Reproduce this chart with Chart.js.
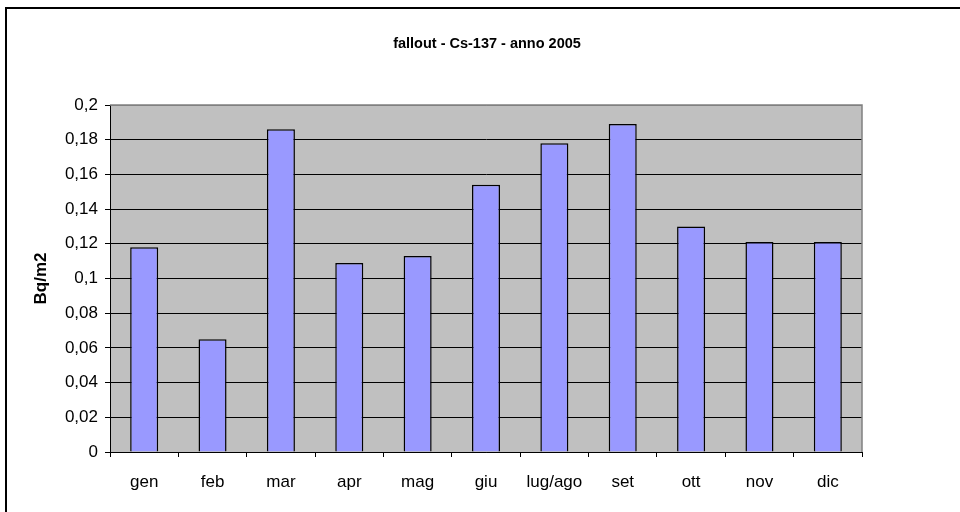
<!DOCTYPE html>
<html>
<head>
<meta charset="utf-8">
<script src="https://cdn.jsdelivr.net/npm/chart.js@4/dist/chart.umd.min.js"></script>
<style>
html,body{margin:0;padding:0;background:#fff;}
#wrap{width:960px;height:512px;position:relative;}
</style>
</head>
<body>
<div id="wrap"><canvas id="c" width="960" height="512"></canvas></div>
<script>
const chartTitle = 'fallout - Cs-137 - anno 2005';
const yAxisTitle = 'Bq/m2';
const categories = ['gen','feb','mar','apr','mag','giu','lug/ago','set','ott','nov','dic'];
const values = [0.118, 0.065, 0.186, 0.109, 0.113, 0.154, 0.178, 0.189, 0.130, 0.121, 0.121];
const yMin = 0, yMax = 0.2, yStep = 0.02;

const FONT = "'Liberation Sans', Arial, sans-serif";

const decor = {
  id: 'decor',
  beforeDraw(chart) {
    const {ctx, chartArea: a} = chart;
    ctx.save();
    ctx.fillStyle = '#fff';
    ctx.fillRect(0, 0, chart.width, chart.height);
    ctx.fillStyle = '#C0C0C0';
    ctx.fillRect(a.left, a.top, a.right - a.left, a.bottom - a.top);
    ctx.restore();
  },
  afterDatasetsDraw(chart) {
    const {ctx, chartArea: a} = chart;
    ctx.save();
    ctx.strokeStyle = '#808080';
    ctx.lineWidth = 1.5;
    ctx.beginPath();
    ctx.moveTo(a.left, a.top);
    ctx.lineTo(a.right, a.top);
    ctx.lineTo(a.right, a.bottom);
    ctx.stroke();
    // outer frame
    ctx.strokeStyle = '#000';
    ctx.lineWidth = 2;
    ctx.strokeRect(6, 8, 1000, 1000);
    // title
    ctx.fillStyle = '#000';
    ctx.font = 'bold 14.5px ' + FONT;
    ctx.textAlign = 'center';
    ctx.textBaseline = 'alphabetic';
    ctx.fillText(chartTitle, (a.left + a.right) / 2 + 1, a.top - 57);
    ctx.restore();
  }
};

new Chart(document.getElementById('c'), {
  type: 'bar',
  data: {
    labels: categories,
    datasets: [{
      data: values,
      backgroundColor: '#9999FF',
      borderColor: '#000',
      borderWidth: 1.5,
      barPercentage: 0.41,
      categoryPercentage: 1.0
    }]
  },
  options: {
    responsive: false,
    animation: false,
    devicePixelRatio: 1,
    layout: { padding: { top: 105, right: 98, bottom: 0, left: 0 } },
    plugins: { legend: { display: false }, tooltip: { enabled: false }, title: { display: false } },
    scales: {
      x: {
        offset: true,
        grid: { offset: true, drawOnChartArea: false, drawTicks: true, tickLength: 5, color: '#000', lineWidth: 1 },
        border: { display: true, color: '#000', width: 1 },
        ticks: { color: '#000', font: { family: FONT, size: 17 }, padding: 15, maxRotation: 0, autoSkip: false },
        afterFit(s) { s.height = 60; }
      },
      y: {
        min: yMin, max: yMax,
        grid: {
          color: (c) => (c.tick && Math.abs(c.tick.value - yMax) < 1e-9) ? '#808080' : '#000',
          tickColor: '#000',
          lineWidth: 1, drawTicks: true, tickLength: 5
        },
        border: { display: true, color: '#000', width: 1 },
        ticks: {
          stepSize: yStep, color: '#000', padding: 7,
          font: { family: FONT, size: 17 },
          callback: (v) => Number(v.toFixed(2)).toString().replace('.', ',')
        },
        title: { display: true, text: yAxisTitle, color: '#000', font: { family: FONT, size: 17, weight: 'bold' }, padding: { top: 31, bottom: 0 } },
        afterFit(s) { s.width = 110; }
      }
    }
  },
  plugins: [decor]
});
</script>
</body>
</html>
